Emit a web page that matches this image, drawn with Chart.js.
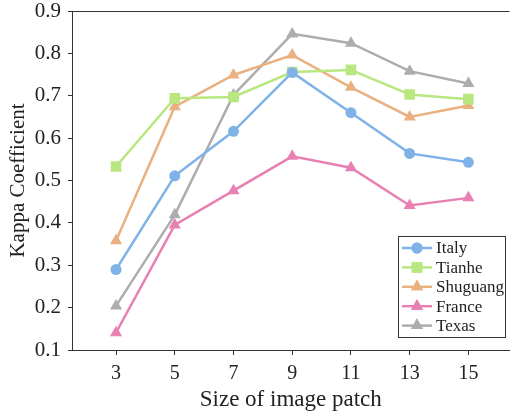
<!DOCTYPE html>
<html>
<head>
<meta charset="utf-8">
<script src="https://cdn.jsdelivr.net/npm/chart.js@4"></script>
<style>
  html, body { margin: 0; padding: 0; background: #fff; }
  #wrap { width: 517px; height: 411px; }
</style>
</head>
<body>
<div id="wrap"><canvas id="kappaChart"></canvas></div>
<script>
const patchSizes = [3, 5, 7, 9, 11, 13, 15];
const yTicks = [0.1, 0.2, 0.3, 0.4, 0.5, 0.6, 0.7, 0.8, 0.9];

const italy = [0.290, 0.511, 0.616, 0.755, 0.660, 0.564, 0.543];
const tianhe = [0.533, 0.694, 0.697, 0.756, 0.761, 0.703, 0.692];
const shuguang = [0.358, 0.674, 0.749, 0.796, 0.720, 0.650, 0.677];
const france = [0.141, 0.395, 0.476, 0.557, 0.530, 0.441, 0.459];
const texas = [0.204, 0.419, 0.702, 0.846, 0.824, 0.758, 0.729];

const seriesNames = ["Italy", "Tianhe", "Shuguang", "France", "Texas"];
const seriesValues = [italy, tianhe, shuguang, france, texas];
const seriesColors = ["#7fb3e8", "#b8e77f", "#e9b17f", "#e880b3", "#adadad"];
const seriesMarkers = ["circle", "rect", "triangle", "triangle", "triangle"];
const markerSizes = { circle: 5.5, rect: 7.5, triangle: 7 };

const serif = "'Liberation Serif', 'Times New Roman', serif";

const datasets = seriesNames.map((name, i) => ({
  label: name,
  data: patchSizes.map((x, j) => ({ x: x, y: seriesValues[i][j] })),
  borderColor: seriesColors[i],
  backgroundColor: seriesColors[i],
  borderWidth: 2.5,
  pointStyle: seriesMarkers[i],
  pointRadius: markerSizes[seriesMarkers[i]],
  pointBorderWidth: 0,
  pointHoverRadius: markerSizes[seriesMarkers[i]],
  tension: 0,
}));

// top frame line + legend box inside the plot
const framePlugin = {
  id: "frame",
  afterDraw(chart) {
    const ctx = chart.ctx;
    const area = chart.chartArea;
    ctx.save();
    ctx.strokeStyle = "#333";
    ctx.lineWidth = 1;
    ctx.beginPath();
    ctx.moveTo(area.left, area.top + 0.5);
    ctx.lineTo(area.right, area.top + 0.5);
    ctx.stroke();

    // legend
    const bx = 398, by = 236, bw = 107, bh = 101;
    ctx.fillStyle = "#fff";
    ctx.fillRect(bx, by, bw, bh);
    ctx.strokeStyle = "#333";
    ctx.strokeRect(bx + 0.5, by + 0.5, bw, bh);
    ctx.font = "17px " + serif;
    ctx.textBaseline = "middle";
    chart.data.datasets.forEach((ds, i) => {
      const y = by + 12 + i * 19.4;
      ctx.strokeStyle = ds.borderColor;
      ctx.lineWidth = 2.5;
      ctx.beginPath();
      ctx.moveTo(bx + 4, y);
      ctx.lineTo(bx + 34, y);
      ctx.stroke();
      ctx.fillStyle = ds.backgroundColor;
      Chart.helpers.drawPoint(ctx, { pointStyle: ds.pointStyle, radius: ds.pointRadius, borderWidth: 0 }, bx + 19, y);
      ctx.fill();
      ctx.fillStyle = "#222";
      ctx.fillText(ds.label, bx + 38, y + 1);
    });
    ctx.restore();
  },
};

new Chart(document.getElementById("kappaChart"), {
  type: "line",
  data: { datasets: datasets },
  plugins: [framePlugin],
  options: {
    responsive: true,
    maintainAspectRatio: false,
    animation: false,
    layout: { padding: { left: 0, top: 11, right: 0, bottom: 0 } },
    plugins: { legend: { display: false }, tooltip: { enabled: false } },
    scales: {
      x: {
        type: "linear",
        min: 1.5,
        max: 16.4,
        afterBuildTicks: (scale) => {
          scale.ticks = patchSizes.map((v) => ({ value: v }));
        },
        afterFit: (scale) => {
          scale.height = 61;
          scale.paddingLeft = 0;
          scale.paddingRight = 0;
        },
        grid: { drawOnChartArea: false, tickLength: 5, color: "#333" },
        border: { display: true, color: "#333", width: 1 },
        ticks: { color: "#222", padding: 7, font: { family: serif, size: 20 } },
        title: {
          display: true,
          text: "Size of image patch",
          color: "#222",
          padding: { top: 0, bottom: 0 },
          font: { family: serif, size: 23, lineHeight: 1 },
        },
      },
      y: {
        min: 0.1,
        max: 0.9,
        afterBuildTicks: (scale) => {
          scale.ticks = yTicks.map((v) => ({ value: v }));
        },
        afterFit: (scale) => {
          scale.width = 72;
          scale.paddingTop = 0;
          scale.paddingBottom = 0;
        },
        grid: { drawOnChartArea: false, tickLength: 4, color: "#333" },
        border: { display: true, color: "#333", width: 1 },
        ticks: {
          color: "#222",
          padding: 7,
          font: { family: serif, size: 21 },
          callback: (v) => v.toFixed(1),
        },
        title: {
          display: true,
          text: "Kappa Coefficient",
          color: "#222",
          padding: { top: 6, bottom: 0 },
          font: { family: serif, size: 21 },
        },
      },
    },
  },
});
</script>
</body>
</html>
